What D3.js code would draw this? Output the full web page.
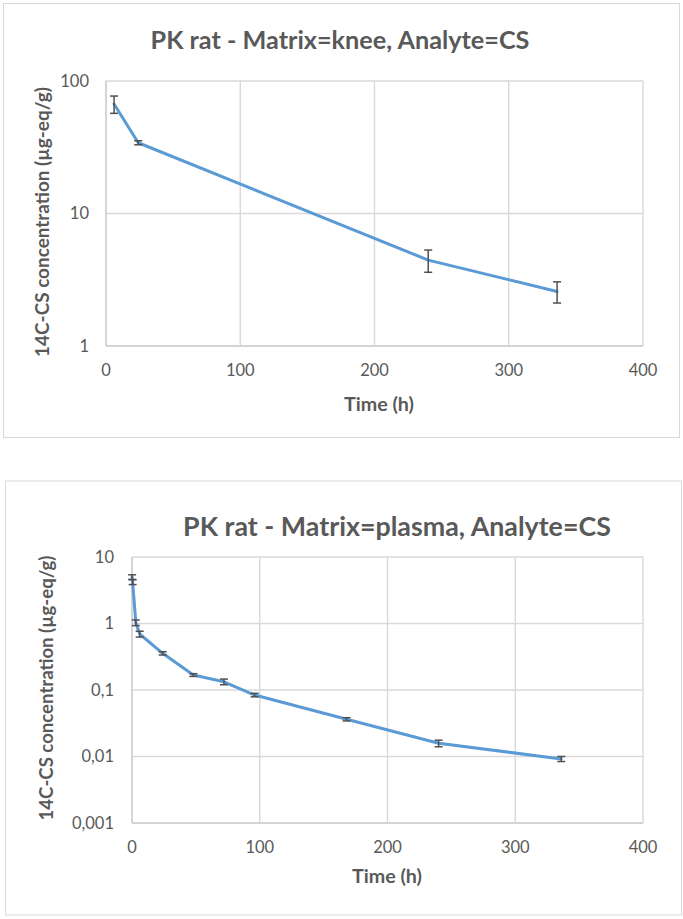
<!DOCTYPE html>
<html>
<head>
<meta charset="utf-8">
<script src="https://cdn.jsdelivr.net/npm/d3@7/dist/d3.min.js"></script>
<style>
  html, body { margin: 0; padding: 0; background: #fff; }
  svg { display: block; }
  text { font-family: Lato, "Open Sans", sans-serif; fill: #595959; }
</style>
</head>
<body>
<svg id="chart" width="683" height="919"></svg>
<script>
// ---------- data ----------
const xTicks = [0, 100, 200, 300, 400];

const kneeTitle = "PK rat - Matrix=knee, Analyte=CS";
const kneeTime = [6, 24, 240, 336];
const kneeConc = [67, 34.2, 4.45, 2.58];
const kneeErr  = [10, 1.2, 0.85, 0.47];
const kneeYTicks = [1, 10, 100];
const kneeYLabels = ["1", "10", "100"];

const plasmaTitle = "PK rat - Matrix=plasma, Analyte=CS";
const plasmaTime = [0.083, 0.5, 3, 6, 24, 48, 72, 96, 168, 240, 336];
const plasmaConc = [5.0, 4.2, 1.03, 0.695, 0.356, 0.168, 0.133, 0.084, 0.0363, 0.0158, 0.0092];
const plasmaErr  = [0.4, 0.35, 0.1, 0.07, 0.02, 0.008, 0.013, 0.005, 0.002, 0.0018, 0.0008];
const plasmaYTicks = [0.001, 0.01, 0.1, 1, 10];
const plasmaYLabels = ["0,001", "0,01", "0,1", "1", "10"];

const yTitle = "14C-CS concentration (µg-eq/g)";
const xTitle = "Time (h)";

// ---------- drawing ----------
const svg = d3.select("#chart");

function fitText(sel, target) {
  const node = sel.node();
  const fs = parseFloat(sel.attr("font-size"));
  const w = node.getComputedTextLength();
  if (w > 0) sel.attr("font-size", (fs * target / w).toFixed(2));
}

function drawChart(cfg) {
  const g = svg.append("g");
  g.append("rect")
    .attr("x", cfg.frame[0]).attr("y", cfg.frame[1])
    .attr("width", cfg.frame[2]).attr("height", cfg.frame[3])
    .attr("fill", "#fff").attr("stroke", "#d9d9d9").attr("stroke-width", 1);

  const x = d3.scaleLinear().domain([0, 400]).range([cfg.left, cfg.right]);
  const y = d3.scaleLog().domain(cfg.yDomain).range([cfg.bottom, cfg.top]);

  g.append("g").selectAll("line").data(xTicks).join("line")
    .attr("x1", d => x(d)).attr("x2", d => x(d))
    .attr("y1", cfg.top).attr("y2", cfg.bottom)
    .attr("stroke", "#d9d9d9").attr("stroke-width", 1.4);
  g.append("g").selectAll("line").data(cfg.yTicks).join("line")
    .attr("x1", cfg.left).attr("x2", cfg.right)
    .attr("y1", d => y(d)).attr("y2", d => y(d))
    .attr("stroke", "#d9d9d9").attr("stroke-width", 1.4);
  g.append("line").attr("x1", cfg.left).attr("x2", cfg.left)
    .attr("y1", cfg.top).attr("y2", cfg.bottom)
    .attr("stroke", "#cfcfcf").attr("stroke-width", 1.4);
  g.append("line").attr("x1", cfg.left).attr("x2", cfg.right)
    .attr("y1", cfg.bottom).attr("y2", cfg.bottom)
    .attr("stroke", "#cfcfcf").attr("stroke-width", 1.4);

  g.append("g").selectAll("text").data(xTicks).join("text")
    .attr("x", d => x(d)).attr("y", cfg.xTickY)
    .attr("text-anchor", "middle").attr("font-size", 16.5)
    .text(d => d);
  g.append("g").selectAll("text").data(cfg.yTicks).join("text")
    .attr("x", cfg.left - cfg.yTickGap).attr("y", d => y(d) + 5.5)
    .attr("text-anchor", "end").attr("font-size", 16.5)
    .text((d, i) => cfg.yLabels[i]);

  const t = g.append("text")
    .attr("x", cfg.titleX).attr("y", cfg.titleY)
    .attr("text-anchor", "middle").attr("font-size", 24).attr("font-weight", 700)
    .text(cfg.title);
  fitText(t, cfg.titleW);

  const xt = g.append("text")
    .attr("x", cfg.xTitleX).attr("y", cfg.xTitleY)
    .attr("text-anchor", "middle").attr("font-size", 17).attr("font-weight", 700)
    .text(xTitle);
  fitText(xt, 70);
  const yt = g.append("text")
    .attr("transform", `translate(${cfg.yTitleX},${cfg.yTitleY}) rotate(-90)`)
    .attr("text-anchor", "middle").attr("font-size", 17).attr("font-weight", 700)
    .text(yTitle);
  fitText(yt, cfg.yTitleW);

  const data = cfg.time.map((t, i) => ({ t, c: cfg.conc[i], e: cfg.err[i] }));

  g.append("path").datum(data)
    .attr("fill", "none").attr("stroke", "#5b9bd5").attr("stroke-width", 3)
    .attr("stroke-linejoin", "round").attr("stroke-linecap", "round")
    .attr("d", d3.line().x(d => x(d.t)).y(d => y(d.c)));

  const eb = g.append("g").attr("stroke", "#505050").attr("stroke-width", 1.5).attr("fill", "none");
  const cap = 4;
  data.forEach(d => {
    const xs = x(d.t), y1 = y(d.c + d.e), y2 = y(d.c - d.e);
    eb.append("line").attr("x1", xs).attr("x2", xs).attr("y1", y1).attr("y2", y2);
    eb.append("line").attr("x1", xs - cap).attr("x2", xs + cap).attr("y1", y1).attr("y2", y1);
    eb.append("line").attr("x1", xs - cap).attr("x2", xs + cap).attr("y1", y2).attr("y2", y2);
  });
}

drawChart({
  frame: [3.5, 3.5, 676, 434],
  left: 106, right: 643, top: 81, bottom: 346,
  yDomain: [1, 100], yTicks: kneeYTicks, yLabels: kneeYLabels, yTickGap: 17,
  xTickY: 376,
  title: kneeTitle, titleX: 340, titleY: 49, titleW: 379,
  xTitleX: 379, xTitleY: 411,
  yTitleX: 49, yTitleY: 222, yTitleW: 270,
  time: kneeTime, conc: kneeConc, err: kneeErr
});

drawChart({
  frame: [5.5, 481, 676, 434],
  left: 132, right: 643, top: 557, bottom: 823,
  yDomain: [0.001, 10], yTicks: plasmaYTicks, yLabels: plasmaYLabels, yTickGap: 18,
  xTickY: 853,
  title: plasmaTitle, titleX: 397, titleY: 536, titleW: 428,
  xTitleX: 387, xTitleY: 883,
  yTitleX: 53, yTitleY: 688, yTitleW: 265,
  time: plasmaTime, conc: plasmaConc, err: plasmaErr
});
</script>
</body>
</html>
